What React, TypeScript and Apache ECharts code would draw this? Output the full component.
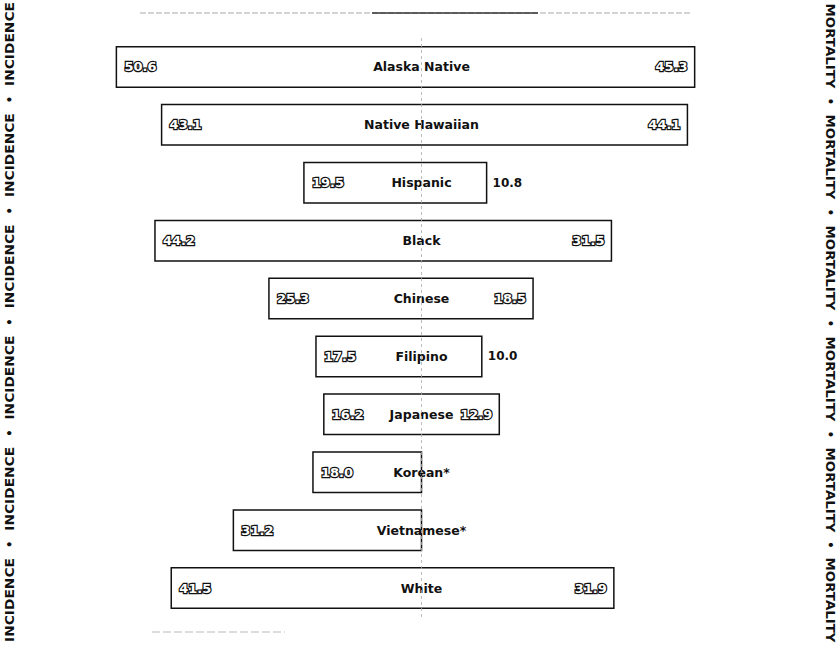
import React, { useEffect, useRef } from "react";
import * as echarts from "echarts";

const categories = [
  "Alaska Native",
  "Native Hawaiian",
  "Hispanic",
  "Black",
  "Chinese",
  "Filipino",
  "Japanese",
  "Korean*",
  "Vietnamese*",
  "White",
];
const incidence = [50.6, 43.1, 19.5, 44.2, 25.3, 17.5, 16.2, 18.0, 31.2, 41.5];
const mortality: (number | null)[] = [45.3, 44.1, 10.8, 31.5, 18.5, 10.0, 12.9, null, null, 31.9];

const leftWord = "INCIDENCE";
const rightWord = "MORTALITY";

const NAME_FONT = 'bold 12.5px "DejaVu Sans"';
const NUM_FONT = 'bold 13px "DejaVu Sans"';
const PLAIN_NUM_FONT = 'bold 12px "DejaVu Sans"';
const SIDE_FONT = 'bold 11.5px "DejaVu Sans"';

export default function App() {
  const ref = useRef<HTMLDivElement>(null);

  useEffect(() => {
    if (!ref.current) return;
    const chart = echarts.init(ref.current, null, { renderer: "svg" });

    const data = categories.map((_, i) => [i, -incidence[i], mortality[i] ?? 0]);

    const renderItem = (params: any, api: any) => {
      const idx = params.dataIndex;
      const i = api.value(0);
      const inc = incidence[idx];
      const mort = mortality[idx];
      const band = api.size([0, 1])[1];
      const h = band * 0.7;
      const left = api.coord([-inc, i]);
      const zero = api.coord([0, i]);
      const right = api.coord([mort ?? 0, i]);
      const cy = left[1];
      const children: any[] = [
        {
          type: "rect",
          shape: { x: left[0], y: cy - h / 2, width: right[0] - left[0], height: h },
          style: { fill: "none", stroke: "#111", lineWidth: 1.5 },
        },
        {
          type: "text",
          style: {
            text: categories[idx],
            x: zero[0],
            y: cy,
            font: NAME_FONT,
            fill: "#111",
            align: "center",
            verticalAlign: "middle",
            textAlign: "center",
            textVerticalAlign: "middle",
          },
        },
        {
          type: "text",
          style: {
            text: inc.toFixed(1),
            x: left[0] + 8,
            y: cy,
            font: NUM_FONT,
            fill: "#fff",
            stroke: "#111",
            lineWidth: 2.4,
            align: "left",
            verticalAlign: "middle",
            textAlign: "left",
            textVerticalAlign: "middle",
          },
        },
      ];
      if (mort != null) {
        const inside = mort >= 12;
        children.push({
          type: "text",
          style: inside
            ? {
                text: mort.toFixed(1),
                x: right[0] - 7,
                y: cy,
                font: NUM_FONT,
                fill: "#fff",
                stroke: "#111",
                lineWidth: 2.4,
                align: "right",
                verticalAlign: "middle",
                textAlign: "right",
                textVerticalAlign: "middle",
              }
            : {
                text: mort.toFixed(1),
                x: right[0] + 6,
                y: cy,
                font: PLAIN_NUM_FONT,
                fill: "#111",
                align: "left",
                verticalAlign: "middle",
                textAlign: "left",
                textVerticalAlign: "middle",
              },
        });
      }
      return { type: "group", children };
    };

    const sideText = (text: string, x: number, y: number, rotation: number, scaleX: number) => ({
      type: "text",
      x,
      y,
      rotation,
      scaleX,
      style: {
        text,
        font: SIDE_FONT,
        fill: "#111",
        align: "center",
        verticalAlign: "middle",
        textAlign: "center",
        textVerticalAlign: "middle",
      },
    });

    // side texts
    const graphics: any[] = [];
    const leftCenters = [44, 155.2, 266.4, 377.6, 488.8, 600];
    leftCenters.forEach((y, k) => {
      graphics.push(sideText(leftWord, 10, y, Math.PI / 2, 1.2));
      if (k < leftCenters.length - 1) {
        graphics.push(sideText("•", 10, (y + leftCenters[k + 1]) / 2, Math.PI / 2, 1));
      }
    });
    const rightCenters = [46, 157, 268, 379, 490, 600];
    rightCenters.forEach((y, k) => {
      graphics.push(sideText(rightWord, 830, y, -Math.PI / 2, 1.16));
      if (k < rightCenters.length - 1) {
        graphics.push(sideText("•", 830, (y + rightCenters[k + 1]) / 2, -Math.PI / 2, 1));
      }
    });
    // faint scan lines top and bottom
    graphics.push({
      type: "line",
      shape: { x1: 140, y1: 13, x2: 690, y2: 13 },
      style: { stroke: "#aaa", lineWidth: 1, lineDash: [6, 2] },
    });
    graphics.push({
      type: "line",
      shape: { x1: 372, y1: 13, x2: 538, y2: 13 },
      style: { stroke: "#333", lineWidth: 1.5 },
    });
    graphics.push({
      type: "line",
      shape: { x1: 152, y1: 632, x2: 285, y2: 632 },
      style: { stroke: "#bbb", lineWidth: 1.2, lineDash: [8, 3] },
    });

    chart.setOption({
      animation: false,
      backgroundColor: "#fff",
      grid: { left: 59.7, width: 723.6, top: 38, height: 579 },
      xAxis: {
        type: "value",
        min: -60,
        max: 60,
        show: false,
      },
      yAxis: {
        type: "category",
        data: categories,
        inverse: true,
        show: false,
      },
      graphic: graphics,
      series: [
        {
          type: "line",
          data: [],
          silent: true,
          markLine: {
            silent: true,
            symbol: "none",
            label: { show: false },
            lineStyle: { color: "#aaa", width: 0.8, type: [3, 3] },
            data: [{ xAxis: 0 }],
          },
        },
        {
          type: "custom",
          renderItem,
          encode: { x: [1, 2], y: 0 },
          data,
        },
      ],
    });

    return () => chart.dispose();
  }, []);

  return (
    <div
      ref={ref}
      style={{ position: "absolute", left: 0, top: 0, width: 839, height: 646 }}
    />
  );
}
